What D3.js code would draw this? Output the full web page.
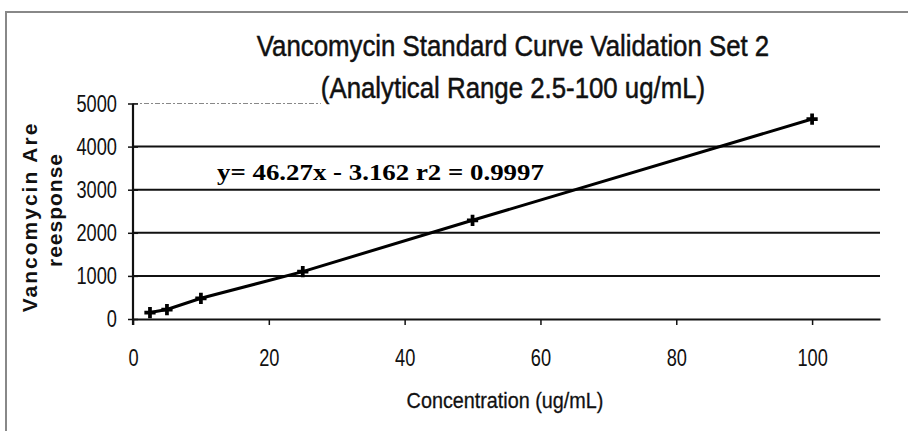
<!DOCTYPE html>
<html><head><meta charset="utf-8">
<script src="https://cdn.jsdelivr.net/npm/d3@7"></script>
<style>
body{margin:0;background:#fff;}
svg{display:block;}
</style></head>
<body><svg id="c" width="908" height="431"></svg>
<script>
const titleLines = ["Vancomycin Standard Curve Validation Set 2", "(Analytical Range 2.5-100 ug/mL)"];
const xTitle = "Concentration (ug/mL)";
const yTitleLines = ["Vancomycin Are", "reesponse"];
const equation = "y= 46.27x - 3.162 r2 = 0.9997";
const concentrations = [2.5, 5, 10, 25, 50, 100];
const responses = [150, 220, 480, 1100, 2290, 4640];
const xTicks = [0, 20, 40, 60, 80, 100];
const yTicks = [0, 1000, 2000, 3000, 4000, 5000];

const SANS = "Liberation Sans, Arial, sans-serif";
const SERIF = "Liberation Serif, Times New Roman, serif";
const NARROW = 0.76;
const svg = d3.select("#c");
// scanned page border
svg.append("rect").attr("x",6).attr("y",12).attr("width",930).attr("height",440)
  .attr("fill","none").attr("stroke","#888").attr("stroke-width",2);

const x = d3.scaleLinear().domain([0,110]).range([133,880]);
const y = d3.scaleLinear().domain([0,5000]).range([319,103.5]);

function condensed(parent, px, py, str, size, sx, anchor){
  return parent.append("text")
    .attr("transform",`translate(${px},${py}) scale(${sx},1)`)
    .style("font-family",SANS)
    .attr("text-anchor",anchor).attr("font-size",size).attr("fill","#111").text(str);
}

// titles
condensed(svg, 513, 56, titleLines[0], 29, 0.89, "middle").attr("stroke","#111").attr("stroke-width",0.5);
const t2 = condensed(svg, 513, 98, titleLines[1], 29, 0.89, "middle").attr("stroke","#111").attr("stroke-width",0.5);
const t2box = t2.node().getBoundingClientRect();

// gridlines
const g = svg.insert("g", "text");
g.selectAll("line.grid").data(yTicks.filter(d=>d>0 && d<5000)).join("line").attr("class","grid")
  .attr("x1",x(0)).attr("x2",x(110)).attr("y1",d=>y(d)).attr("y2",d=>y(d))
  .attr("stroke","#111").attr("stroke-width",2);
g.append("line").attr("x1",x(0)).attr("x2",t2box.left).attr("y1",y(5000)).attr("y2",y(5000))
  .attr("stroke","#888").attr("stroke-width",1.2).attr("stroke-dasharray","5,2,2,2");

// x axis
const xAxis = d3.axisBottom(x).tickValues(xTicks).tickSize(6).tickSizeOuter(0).tickFormat(d3.format("d"));
const xg = svg.append("g").attr("transform",`translate(0,${y(0)})`).call(xAxis);
xg.select(".domain").attr("stroke","#111").attr("stroke-width",2.2);
xg.selectAll(".tick line").attr("stroke","#111").attr("stroke-width",1.5);
xg.selectAll(".tick text").attr("y",0).attr("dy",0).attr("font-size",24).attr("fill","#111")
  .style("font-family",SANS)
  .attr("transform",`translate(0,47) scale(${NARROW},1)`);

// y axis
const yAxis = d3.axisLeft(y).tickValues(yTicks).tickSize(5).tickSizeOuter(0).tickFormat(d3.format("d"));
const yg = svg.append("g").attr("transform",`translate(${x(0)},0)`).call(yAxis);
yg.select(".domain").attr("stroke","#111").attr("stroke-width",2.2).attr("d",`M0,${y(5000)}V${y(0)+6}`);
yg.selectAll(".tick line").attr("x1",-5).attr("x2",5).attr("stroke","#111").attr("stroke-width",1.5);
yg.selectAll(".tick text").attr("x",0).attr("font-size",24).attr("fill","#111")
  .style("font-family",SANS)
  .attr("transform",`translate(-16,0) scale(${NARROW},1)`);

// data line and markers
const line = d3.line().x((d,i)=>x(concentrations[i])).y(d=>y(d));
svg.append("path").datum(responses).attr("d",line).attr("fill","none")
  .attr("stroke","#000").attr("stroke-width",3);
svg.selectAll("path.pt").data(responses).join("path").attr("class","pt")
  .attr("transform",(d,i)=>`translate(${x(concentrations[i])},${y(d)})`)
  .attr("d",d3.symbol(d3.symbolCross,70)).attr("fill","#000");

// equation
svg.append("text").attr("transform","translate(217,180) scale(1.12,1)")
  .style("font-family",SERIF)
  .attr("font-weight","bold").attr("font-size",24).attr("fill","#000").text(equation);

// axis titles
condensed(svg, 505, 408, xTitle, 22, 0.9, "middle").attr("stroke","#111").attr("stroke-width",0.3);

const ytPos = [[37,217,2],[62,210,1]];
yTitleLines.forEach((s,i)=>{
  svg.append("text").attr("transform",`translate(${ytPos[i][0]},${ytPos[i][1]}) rotate(-90)`)
    .style("font-family",SANS)
    .attr("text-anchor","middle").attr("font-weight","bold").attr("font-size",21)
    .attr("letter-spacing",ytPos[i][2]).attr("fill","#111").text(s);
});
</script></body></html>
